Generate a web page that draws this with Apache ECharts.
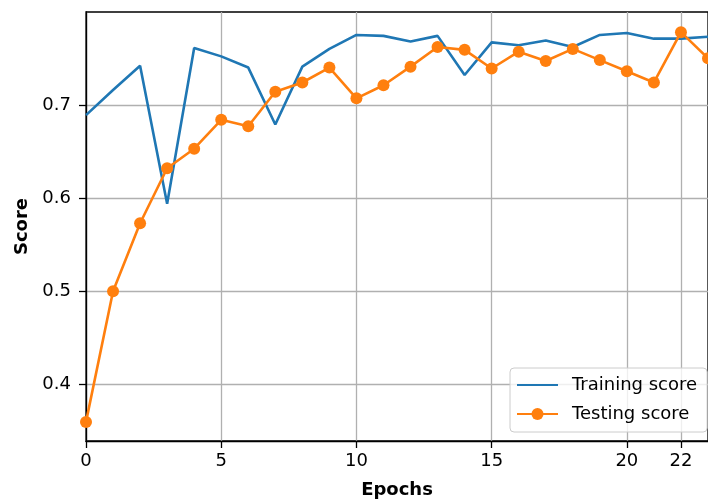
<!DOCTYPE html>
<html>
<head>
<meta charset="utf-8">
<script src="https://cdn.jsdelivr.net/npm/echarts@6/dist/echarts.min.js"></script>
<style>
html,body{margin:0;padding:0;background:#fff;}
#chart{width:708px;height:504px;}
</style>
</head>
<body>
<div id="chart"></div>
<script>
var epochs = [0,1,2,3,4,5,6,7,8,9,10,11,12,13,14,15,16,17,18,19,20,21,22,23];
var trainingScore = [0.689,0.716,0.742,0.594,0.761,0.752,0.740,0.679,0.741,0.760,0.775,0.774,0.768,0.774,0.732,0.767,0.764,0.769,0.762,0.775,0.777,0.771,0.771,0.773];
var testingScore = [0.360,0.500,0.573,0.632,0.653,0.684,0.677,0.714,0.724,0.740,0.707,0.721,0.741,0.762,0.759,0.739,0.757,0.747,0.760,0.748,0.736,0.724,0.778,0.750];
var xTicks = [0,5,10,15,20,22];
var yTicks = [0.4,0.5,0.6,0.7];
var seriesNames = ['Training score','Testing score'];
var xTitle = 'Epochs';
var yTitle = 'Score';

function pairs(xs, ys){ return xs.map(function(x,i){ return [x, ys[i]]; }); }

var FONT = 'DejaVu Sans';
var chart = echarts.init(document.getElementById('chart'), null, {renderer:'canvas'});
chart.setOption({
  animation: false,
  backgroundColor: '#fff',
  grid: {left: 86, top: 12, width: 632.5, height: 431, show: true, borderColor: '#000', borderWidth: 1.3, backgroundColor: 'transparent'},
  legend: {
    orient: 'vertical', left: 510, top: 368,
    padding: [8, 10, 9, 6], itemGap: 11, itemWidth: 41, itemHeight: 15,
    backgroundColor: 'rgba(255,255,255,0.8)', borderColor: '#cccccc', borderWidth: 1, borderRadius: 4,
    textStyle: {fontFamily: FONT, fontSize: 18, color: '#000', padding: [0,0,0,9]},
    data: [{name: seriesNames[0], itemStyle: {opacity: 0}}, {name: seriesNames[1]}]
  },
  xAxis: {
    type: 'value', min: 0, max: 23,
    name: xTitle, nameLocation: 'middle', nameGap: 40,
    nameTextStyle: {fontFamily: FONT, fontSize: 18, fontWeight: 'bold', color: '#000'},
    axisLine: {show: true, lineStyle: {color: '#000', width: 1.3}},
    axisTick: {show: true, length: 7, inside: false, customValues: xTicks, lineStyle: {color: '#000', width: 1.3}},
    axisLabel: {customValues: xTicks, margin: 11, fontFamily: FONT, fontSize: 18, color: '#000'},
    splitLine: {show: true, lineStyle: {color: '#b0b0b0', width: 1.3}}
  },
  yAxis: {
    type: 'value', min: 0.3395, max: 0.7996,
    name: yTitle, nameLocation: 'middle', nameGap: 50, nameRotate: 90,
    nameTextStyle: {fontFamily: FONT, fontSize: 18, fontWeight: 'bold', color: '#000'},
    axisLine: {show: true, lineStyle: {color: '#000', width: 1.3}},
    axisTick: {show: true, length: 7, inside: false, customValues: yTicks, lineStyle: {color: '#000', width: 1.3}},
    axisLabel: {customValues: yTicks, margin: 15, fontFamily: FONT, fontSize: 18, color: '#000',
      formatter: function(v){ return v.toFixed(1); }},
    splitLine: {show: true, lineStyle: {color: '#b0b0b0', width: 1.3}}
  },
  series: [
    {name: seriesNames[0], type: 'line', data: pairs(epochs, trainingScore), showSymbol: false, symbol: 'none',
     color: '#1f77b4', lineStyle: {color: '#1f77b4', width: 2.6}, z: 3},
    {name: seriesNames[1], type: 'line', data: pairs(epochs, testingScore), symbol: 'circle', symbolSize: 12,
     color: '#ff7f0e', itemStyle: {color: '#ff7f0e'}, lineStyle: {color: '#ff7f0e', width: 2.6}, z: 4}
  ]
});
</script>
</body>
</html>
